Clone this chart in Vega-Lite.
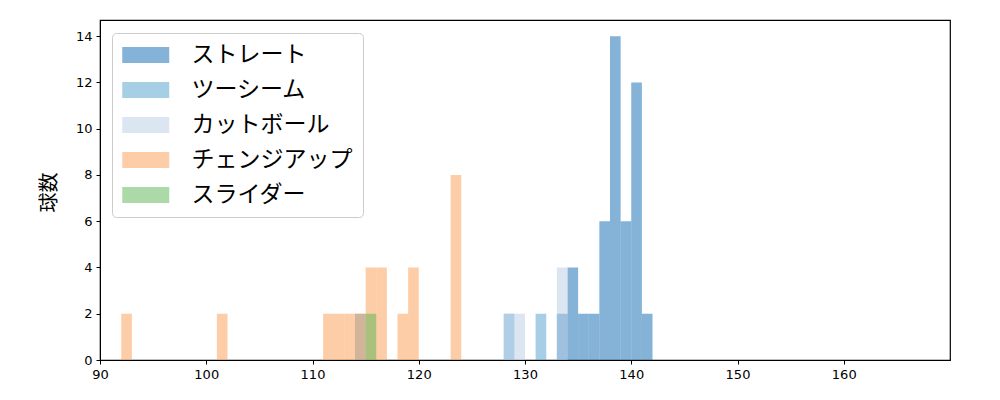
{
  "$schema": "https://vega.github.io/schema/vega-lite/v6.json",
  "width": 850,
  "height": 340,
  "autosize": {"type": "none"},
  "padding": {"left": 100, "top": 20, "right": 50, "bottom": 40},
  "background": "white",
  "config": {
    "view": {"stroke": "black", "strokeWidth": 1.2},
    "axis": {
      "labelFont": "DejaVu Sans",
      "labelFontSize": 13,
      "labelColor": "black",
      "domainColor": "black",
      "tickColor": "black",
      "tickSize": 4,
      "grid": false,
      "labelPadding": 4,
      "labelFlush": false
    }
  },
  "data": {
    "values": [
      {"type": "ストレート", "lo": 133, "hi": 134, "n": 2},
      {"type": "ストレート", "lo": 134, "hi": 135, "n": 4},
      {"type": "ストレート", "lo": 135, "hi": 136, "n": 2},
      {"type": "ストレート", "lo": 136, "hi": 137, "n": 2},
      {"type": "ストレート", "lo": 137, "hi": 138, "n": 6},
      {"type": "ストレート", "lo": 138, "hi": 139, "n": 14},
      {"type": "ストレート", "lo": 139, "hi": 140, "n": 6},
      {"type": "ストレート", "lo": 140, "hi": 141, "n": 12},
      {"type": "ストレート", "lo": 141, "hi": 142, "n": 2},
      {"type": "ツーシーム", "lo": 114, "hi": 115, "n": 2},
      {"type": "ツーシーム", "lo": 128, "hi": 129, "n": 2},
      {"type": "ツーシーム", "lo": 131, "hi": 132, "n": 2},
      {"type": "カットボール", "lo": 128, "hi": 129, "n": 2},
      {"type": "カットボール", "lo": 129, "hi": 130, "n": 2},
      {"type": "カットボール", "lo": 133, "hi": 134, "n": 4},
      {"type": "チェンジアップ", "lo": 92, "hi": 93, "n": 2},
      {"type": "チェンジアップ", "lo": 101, "hi": 102, "n": 2},
      {"type": "チェンジアップ", "lo": 111, "hi": 112, "n": 2},
      {"type": "チェンジアップ", "lo": 112, "hi": 113, "n": 2},
      {"type": "チェンジアップ", "lo": 113, "hi": 114, "n": 2},
      {"type": "チェンジアップ", "lo": 114, "hi": 115, "n": 2},
      {"type": "チェンジアップ", "lo": 115, "hi": 116, "n": 4},
      {"type": "チェンジアップ", "lo": 116, "hi": 117, "n": 4},
      {"type": "チェンジアップ", "lo": 118, "hi": 119, "n": 2},
      {"type": "チェンジアップ", "lo": 119, "hi": 120, "n": 4},
      {"type": "チェンジアップ", "lo": 123, "hi": 124, "n": 8},
      {"type": "スライダー", "lo": 115, "hi": 116, "n": 2}
    ]
  },
  "mark": {"type": "bar", "opacity": 0.5, "stroke": null},
  "encoding": {
    "x": {
      "field": "lo",
      "type": "quantitative",
      "scale": {"domain": [90, 170], "nice": false, "zero": false, "padding": 0},
      "axis": {"values": [90, 100, 110, 120, 130, 140, 150, 160], "title": null}
    },
    "x2": {"field": "hi"},
    "y": {
      "field": "n",
      "type": "quantitative",
      "stack": null,
      "scale": {"domain": [0, 14.7], "nice": false, "padding": 0},
      "axis": {
        "values": [0, 2, 4, 6, 8, 10, 12, 14],
        "title": "球数",
        "titleFont": "Noto Sans CJK JP",
        "titleFontSize": 20,
        "titleFontWeight": "normal",
        "titleColor": "black",
        "titleX": -51,
        "titleY": 172,
        "titleBaseline": "middle",
        "titleAlign": "center",
        "titleAngle": -90
      }
    },
    "y2": {"datum": 0},
    "color": {
      "field": "type",
      "type": "nominal",
      "sort": ["ストレート", "ツーシーム", "カットボール", "チェンジアップ", "スライダー"],
      "scale": {
        "domain": ["ストレート", "ツーシーム", "カットボール", "チェンジアップ", "スライダー"],
        "range": ["#0967AF", "#4D9DC9", "#B9CDE5", "#FB9B51", "#57B551"]
      },
      "legend": {
        "title": null,
        "orient": "none",
        "legendX": 12,
        "legendY": 13,
        "symbolType": "M-1,-0.68L3,-0.68L3,0.68L-1,0.68Z",
        "symbolSize": 552,
        "symbolOpacity": 0.5,
        "symbolStrokeWidth": 0,
        "labelFont": "Noto Sans CJK JP",
        "labelFontSize": 23,
        "labelLimit": 400,
        "labelColor": "black",
        "labelOffset": 45.5,
        "rowPadding": 11,
        "padding": 10,
        "fillColor": "white",
        "strokeColor": "#cccccc",
        "cornerRadius": 4
      }
    }
  }
}
